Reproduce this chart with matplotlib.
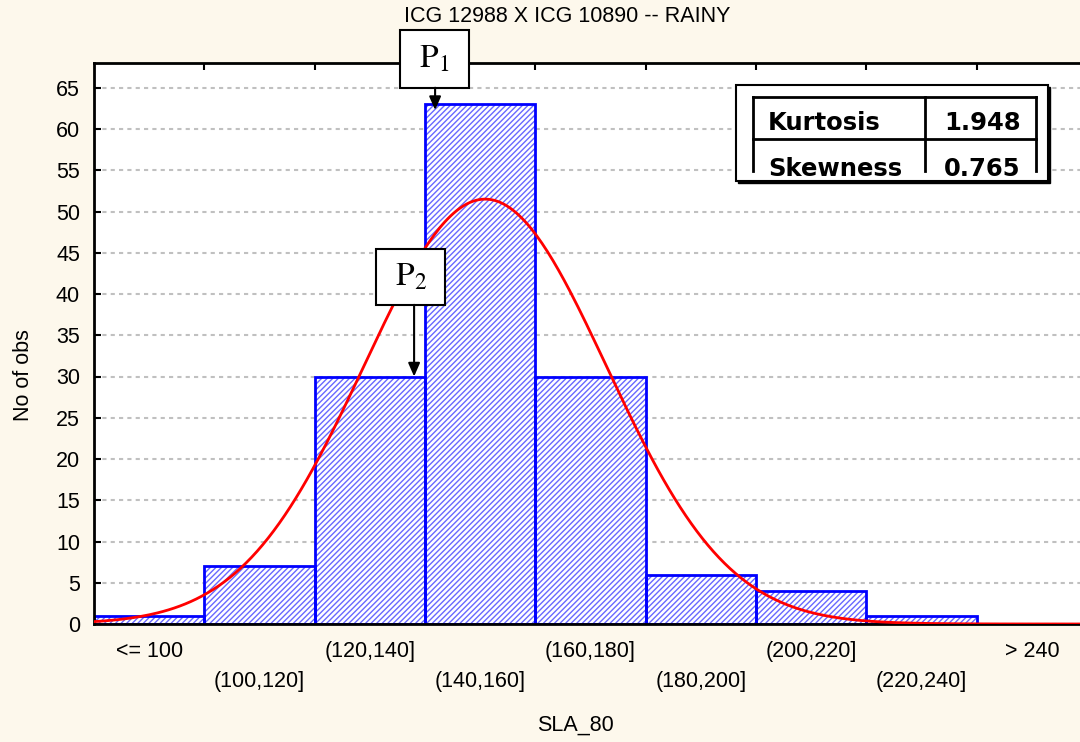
import numpy as np
import matplotlib.pyplot as plt
from matplotlib.patches import Rectangle

# histogram classes of SLA_80 and their counts
categories = ['<= 100', '(100,120]', '(120,140]', '(140,160]', '(160,180]',
              '(180,200]', '(200,220]', '(220,240]', '> 240']
counts = [1, 7, 30, 63, 30, 6, 4, 1, 0]

# fitted normal curve parameters
fit_mean = 150.9
fit_sd = 22.0
bin_width = 20
first_edge = 100

kurtosis = 1.948
skewness = 0.765

bg = '#fdf8ec'
plt.rcParams['font.family'] = ['Liberation Sans', 'DejaVu Sans']
plt.rcParams['hatch.linewidth'] = 1.0
plt.rcParams['mathtext.fontset'] = 'stix'

fig = plt.figure(figsize=(10.8, 7.42), dpi=100)
fig.patch.set_facecolor(bg)
ax = fig.add_axes([94 / 1080, 118 / 742, 993 / 1080, 561 / 742])
ax.set_facecolor('white')

x = np.arange(len(categories))
# hatch layer (light blue lines) then the blue outline on top
ax.bar(x, counts, width=1, facecolor='white', edgecolor='#6868ff',
       hatch='//////', linewidth=0, zorder=2)
ax.bar(x, counts, width=1, fill=False, edgecolor='#0000ff', linewidth=2, zorder=2.5)

# normal fit in category units
v = np.linspace(first_edge - bin_width, first_edge + 9 * bin_width, 400)
pos = (v - first_edge) / bin_width + 0.5
n = sum(counts)
curve = n * bin_width * np.exp(-0.5 * ((v - fit_mean) / fit_sd) ** 2) / (fit_sd * np.sqrt(2 * np.pi))
ax.plot(pos, curve, color='#ff0000', lw=2, zorder=3)

ax.set_xlim(-0.5, len(categories) - 0.5)
ax.set_ylim(0, 68)
ax.set_yticks(range(0, 70, 5))
ax.yaxis.grid(True, color='#c0c0c0', linestyle=(0, (2, 2)), linewidth=1.5)
ax.set_axisbelow(True)

ax.set_xticks(x[:-1] + 0.5)
ax.set_xticklabels([])
ax.set_xticks(x, minor=True)
labs = [c if i % 2 == 0 else '\n' + c for i, c in enumerate(categories)]
ax.set_xticklabels(labs, minor=True)
for t in ax.get_xticklabels(minor=True):
    t.set_linespacing(1.6)
ax.tick_params(axis='x', which='minor', length=0, pad=12, labelsize=15.5)
ax.tick_params(axis='both', which='major', direction='in', length=5, width=1.5,
               top=True, labelsize=15.5)
ax.tick_params(axis='y', pad=10)

for s in ['left', 'bottom', 'top']:
    ax.spines[s].set_linewidth(2)
ax.spines['right'].set_visible(False)

ax.set_ylabel('No of obs', fontsize=15.5)
ax.yaxis.set_label_coords(-0.060, 0.444)
fig.text(575 / 1080, 1 - 725 / 742, 'SLA_80', fontsize=15.5, ha='center', va='center')
fig.text(567 / 1080, 1 - 16 / 742, 'ICG 12988 X ICG 10890 -- RAINY', fontsize=15.5,
         ha='center', va='center')

# P1 / P2 marker boxes
def px_x(p):
    return (p - 94) / 110.3 - 0.5

def px_y(p):
    return (624 - p) / 8.246

for label, x0, x1, y0, y1, ax_x, tip in [(r'$\mathrm{P}_1$', 400, 469, 30, 88, 435, 62.3),
                                          (r'$\mathrm{P}_2$', 376, 445, 249, 305, 414, 30)]:
    ax.add_patch(Rectangle((px_x(x0), px_y(y1)), px_x(x1) - px_x(x0), px_y(y0) - px_y(y1),
                           facecolor='white', edgecolor='black', lw=1.5,
                           clip_on=False, zorder=6))
    ax.text((px_x(x0) + px_x(x1)) / 2, (px_y(y0) + px_y(y1)) / 2, label,
            fontsize=24, ha='center', va='center', zorder=7, clip_on=False)
    ax.annotate('', xy=(px_x(ax_x), tip), xytext=(px_x(ax_x), px_y(y1)),
                arrowprops=dict(arrowstyle='-|>,head_length=0.8,head_width=0.35',
                                color='black', lw=1.5, shrinkA=0, shrinkB=0),
                zorder=6, annotation_clip=False)

# statistics table
tr = ax.transAxes
ax.add_patch(Rectangle((0.6485, 0.7861), 0.3142, 0.1711, transform=tr,
                       facecolor='black', edgecolor='black', lw=1, zorder=7))
ax.add_patch(Rectangle((0.6465, 0.7897), 0.3142, 0.1711, transform=tr,
                       facecolor='white', edgecolor='black', lw=1.5, zorder=8))
xl, xm, xr = 0.6636, 0.8369, 0.9486
yt, ym, yb = 0.9394, 0.8645, 0.8075
ax.plot([xl, xr], [yt, yt], color='black', lw=2, transform=tr, zorder=9)
ax.plot([xl, xr], [ym, ym], color='black', lw=2, transform=tr, zorder=9)
for xx in [xl, xm, xr]:
    ax.plot([xx, xx], [yb, yt], color='black', lw=2, transform=tr, zorder=9)
clip = Rectangle((xl, yb), xr - xl, yt - yb, transform=tr, visible=False)
ax.add_patch(clip)
rows = [('Kurtosis', kurtosis, 0.8806), ('Skewness', skewness, 0.7985)]
for name, val, yy in rows:
    t1 = ax.text(0.6788, yy, name, transform=tr, fontsize=17.5, fontweight='bold',
                 family='DejaVu Sans', va='baseline', ha='left', zorder=10)
    t2 = ax.text(0.9335, yy, f'{val:.3f}', transform=tr, fontsize=17.5, fontweight='bold',
                 family='DejaVu Sans', va='baseline', ha='right', zorder=10)
    t1.set_clip_path(clip)
    t2.set_clip_path(clip)

fig.savefig('out.png', dpi=100, facecolor=bg)
